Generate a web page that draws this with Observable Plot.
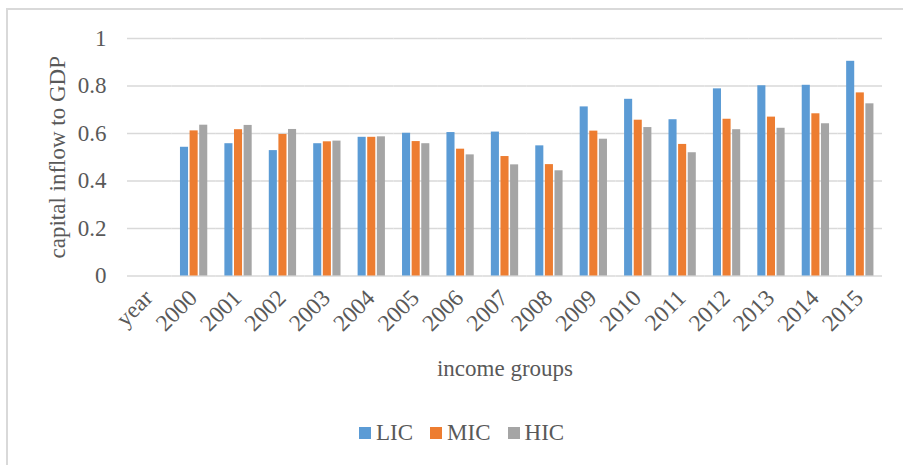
<!DOCTYPE html>
<html>
<head>
<meta charset="utf-8">
<script src="https://cdn.jsdelivr.net/npm/d3@7"></script>
<script src="https://cdn.jsdelivr.net/npm/@observablehq/plot@0.6"></script>
<style>
  html, body { margin: 0; padding: 0; background: #fff; }
  #chart { position: relative; width: 903px; height: 465px; overflow: hidden; font-family: "Liberation Serif", "Times New Roman", serif; color: #595959; }
  #frame { position: absolute; left: 6px; top: 8px; width: 940px; height: 480px; border-left: 2px solid #d9d9d9; border-top: 2px solid #d9d9d9; }
  #plot { position: absolute; left: 0; top: 0; }
  #legend { position: absolute; left: 359px; top: 420px; display: flex; align-items: center; font-size: 23px; }
  #legend .item { display: flex; align-items: center; margin-right: 17px; }
  #legend .sw { width: 12px; height: 12px; margin-right: 5px; }
</style>
</head>
<body>
<div id="chart">
  <div id="frame"></div>
  <div id="plot"></div>
  <div id="legend"></div>
</div>
<script>
// Categories along the x axis (the first one is the column header "year", without bars)
const years = ["2000", "2001", "2002", "2003", "2004", "2005", "2006", "2007",
               "2008", "2009", "2010", "2011", "2012", "2013", "2014", "2015"];
const categories = ["year", ...years];

// Capital inflow to GDP by income group
const groups = ["LIC", "MIC", "HIC"];
const LIC = [0.542, 0.557, 0.528, 0.557, 0.584, 0.601, 0.604, 0.606, 0.548, 0.712, 0.744, 0.658, 0.788, 0.801, 0.803, 0.904];
const MIC = [0.611, 0.616, 0.596, 0.565, 0.584, 0.566, 0.534, 0.503, 0.469, 0.610, 0.656, 0.554, 0.660, 0.669, 0.683, 0.771];
const HIC = [0.635, 0.634, 0.617, 0.568, 0.586, 0.557, 0.510, 0.468, 0.443, 0.576, 0.625, 0.519, 0.616, 0.622, 0.641, 0.725];
const colors = ["#5b9bd5", "#ed7d31", "#a5a5a5"];

const yTicks = [0, 0.2, 0.4, 0.6, 0.8, 1];

// Long table: one row per category and group ("year" has no value)
const series = {LIC, MIC, HIC};
const rows = categories.flatMap(cat => groups.map(g => {
  const i = years.indexOf(cat);
  return {category: cat, group: g, value: i < 0 ? null : series[g][i]};
}));

const plot = Plot.plot({
  width: 903,
  height: 400,
  marginTop: 38,
  marginBottom: 124.5,
  marginLeft: 127,
  marginRight: 21,
  style: {fontFamily: "'Liberation Serif', 'Times New Roman', serif", fontSize: "23px", color: "#595959", background: "transparent"},
  fx: {domain: categories, paddingInner: 0, paddingOuter: 0, round: false},
  x: {domain: groups, paddingInner: 0.16, paddingOuter: 0.89, round: false, axis: null},
  y: {domain: [0, 1]},
  color: {domain: groups, range: colors},
  marks: [
    Plot.gridY(yTicks, {stroke: "#d9d9d9", strokeOpacity: 1, strokeWidth: 1.4}),
    Plot.barY(rows, {fx: "category", x: "group", y: "value", fill: "group"}),
    Plot.axisY(yTicks, {
      tickSize: 0, tickPadding: 21, tickFormat: d3.format("~g"),
      label: "capital inflow to GDP", labelAnchor: "center", labelOffset: 79, labelArrow: "none"
    }),
    Plot.axisFx({
      anchor: "bottom", tickSize: 0, tickPadding: 12, tickRotate: -45, dy: 6, dx: -1,
      fontSize: 23.5, label: null
    }),
    Plot.axisFx({
      anchor: "bottom", tickSize: 0, ticks: [],
      label: "income groups", labelAnchor: "center", labelOffset: 100
    })
  ]
});
document.getElementById("plot").appendChild(plot);

// Legend below the chart
const legend = d3.select("#legend");
groups.forEach((g, i) => {
  const item = legend.append("div").attr("class", "item");
  item.append("div").attr("class", "sw").style("background", colors[i]);
  item.append("span").text(g);
});
</script>
</body>
</html>
